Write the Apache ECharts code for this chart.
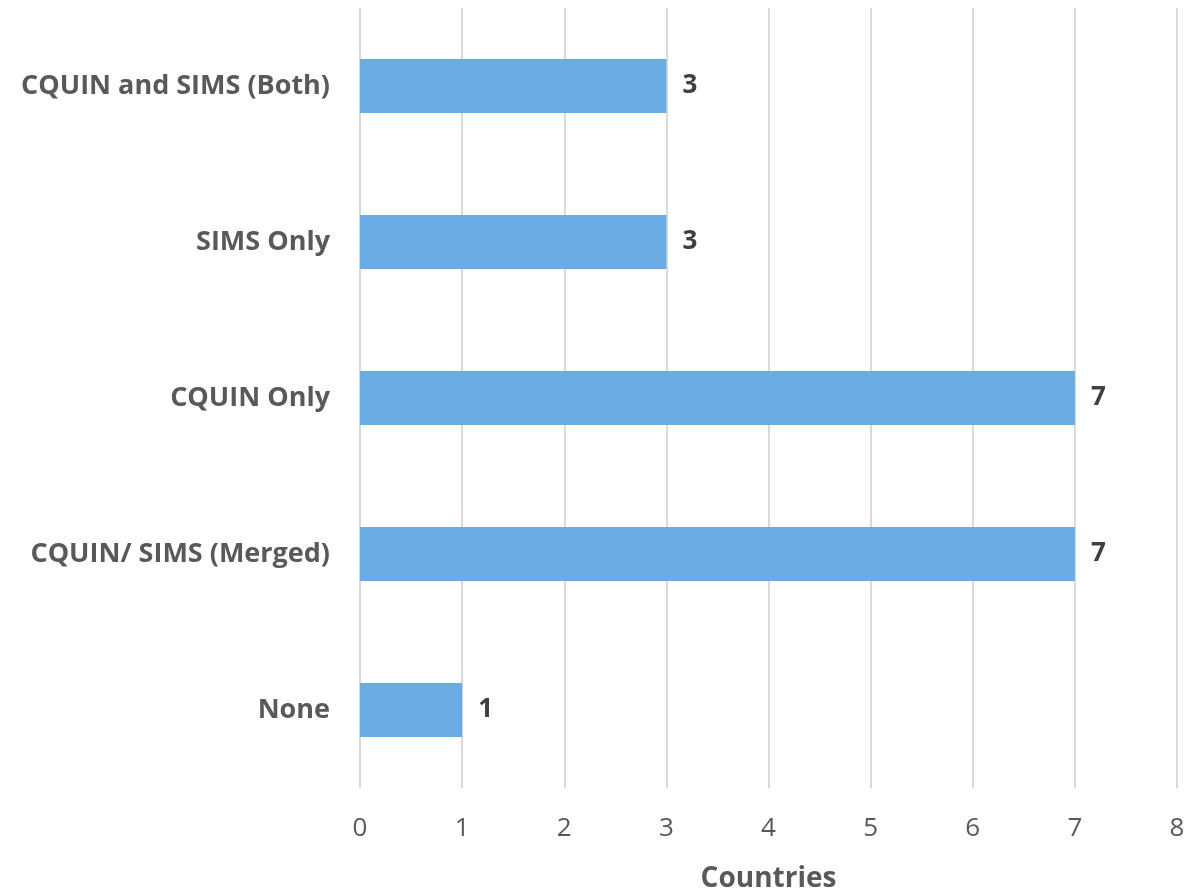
<!DOCTYPE html>
<html>
<head>
<meta charset="utf-8">
<script src="https://cdn.jsdelivr.net/npm/echarts@6/dist/echarts.min.js"></script>
<style>
  html, body { margin: 0; padding: 0; background: #ffffff; }
  #chart { width: 1203px; height: 892px; }
</style>
</head>
<body>
<div id="chart"></div>
<script>
// Categories listed bottom to top (category axis draws first item at the bottom)
const categories = ['None', 'CQUIN/ SIMS (Merged)', 'CQUIN Only', 'SIMS Only', 'CQUIN and SIMS (Both)'];
const countries = [1, 7, 7, 3, 3];
const xTicks = [0, 1, 2, 3, 4, 5, 6, 7, 8];

const FONT = '"Open Sans", sans-serif';
const chart = echarts.init(document.getElementById('chart'));
chart.setOption({
  animation: false,
  grid: { left: 360, right: 26, top: 8, bottom: 104, containLabel: false, outerBoundsMode: 'none' },
  xAxis: {
    type: 'value',
    min: xTicks[0],
    max: xTicks[xTicks.length - 1],
    interval: 1,
    name: 'Countries',
    nameLocation: 'middle',
    nameGap: 77,
    nameTextStyle: { fontFamily: FONT, fontSize: 28, fontWeight: 'bold', color: '#595959' },
    axisLine: { show: false },
    axisTick: { show: false },
    axisLabel: { fontFamily: FONT, fontSize: 26, color: '#595959', margin: 28 },
    splitLine: { lineStyle: { color: '#d9d9d9', width: 2 } }
  },
  yAxis: {
    type: 'category',
    data: categories,
    axisLine: { show: false },
    axisTick: { show: false },
    axisLabel: { fontFamily: FONT, fontSize: 27, fontWeight: 'bold', color: '#595959', margin: 30 }
  },
  series: [{
    type: 'bar',
    data: countries,
    barWidth: 54,
    itemStyle: { color: '#6cace4' },
    label: {
      show: true,
      position: 'right',
      distance: 16,
      fontFamily: FONT,
      fontSize: 26,
      fontWeight: 'bold',
      color: '#404040'
    }
  }]
});
</script>
</body>
</html>
